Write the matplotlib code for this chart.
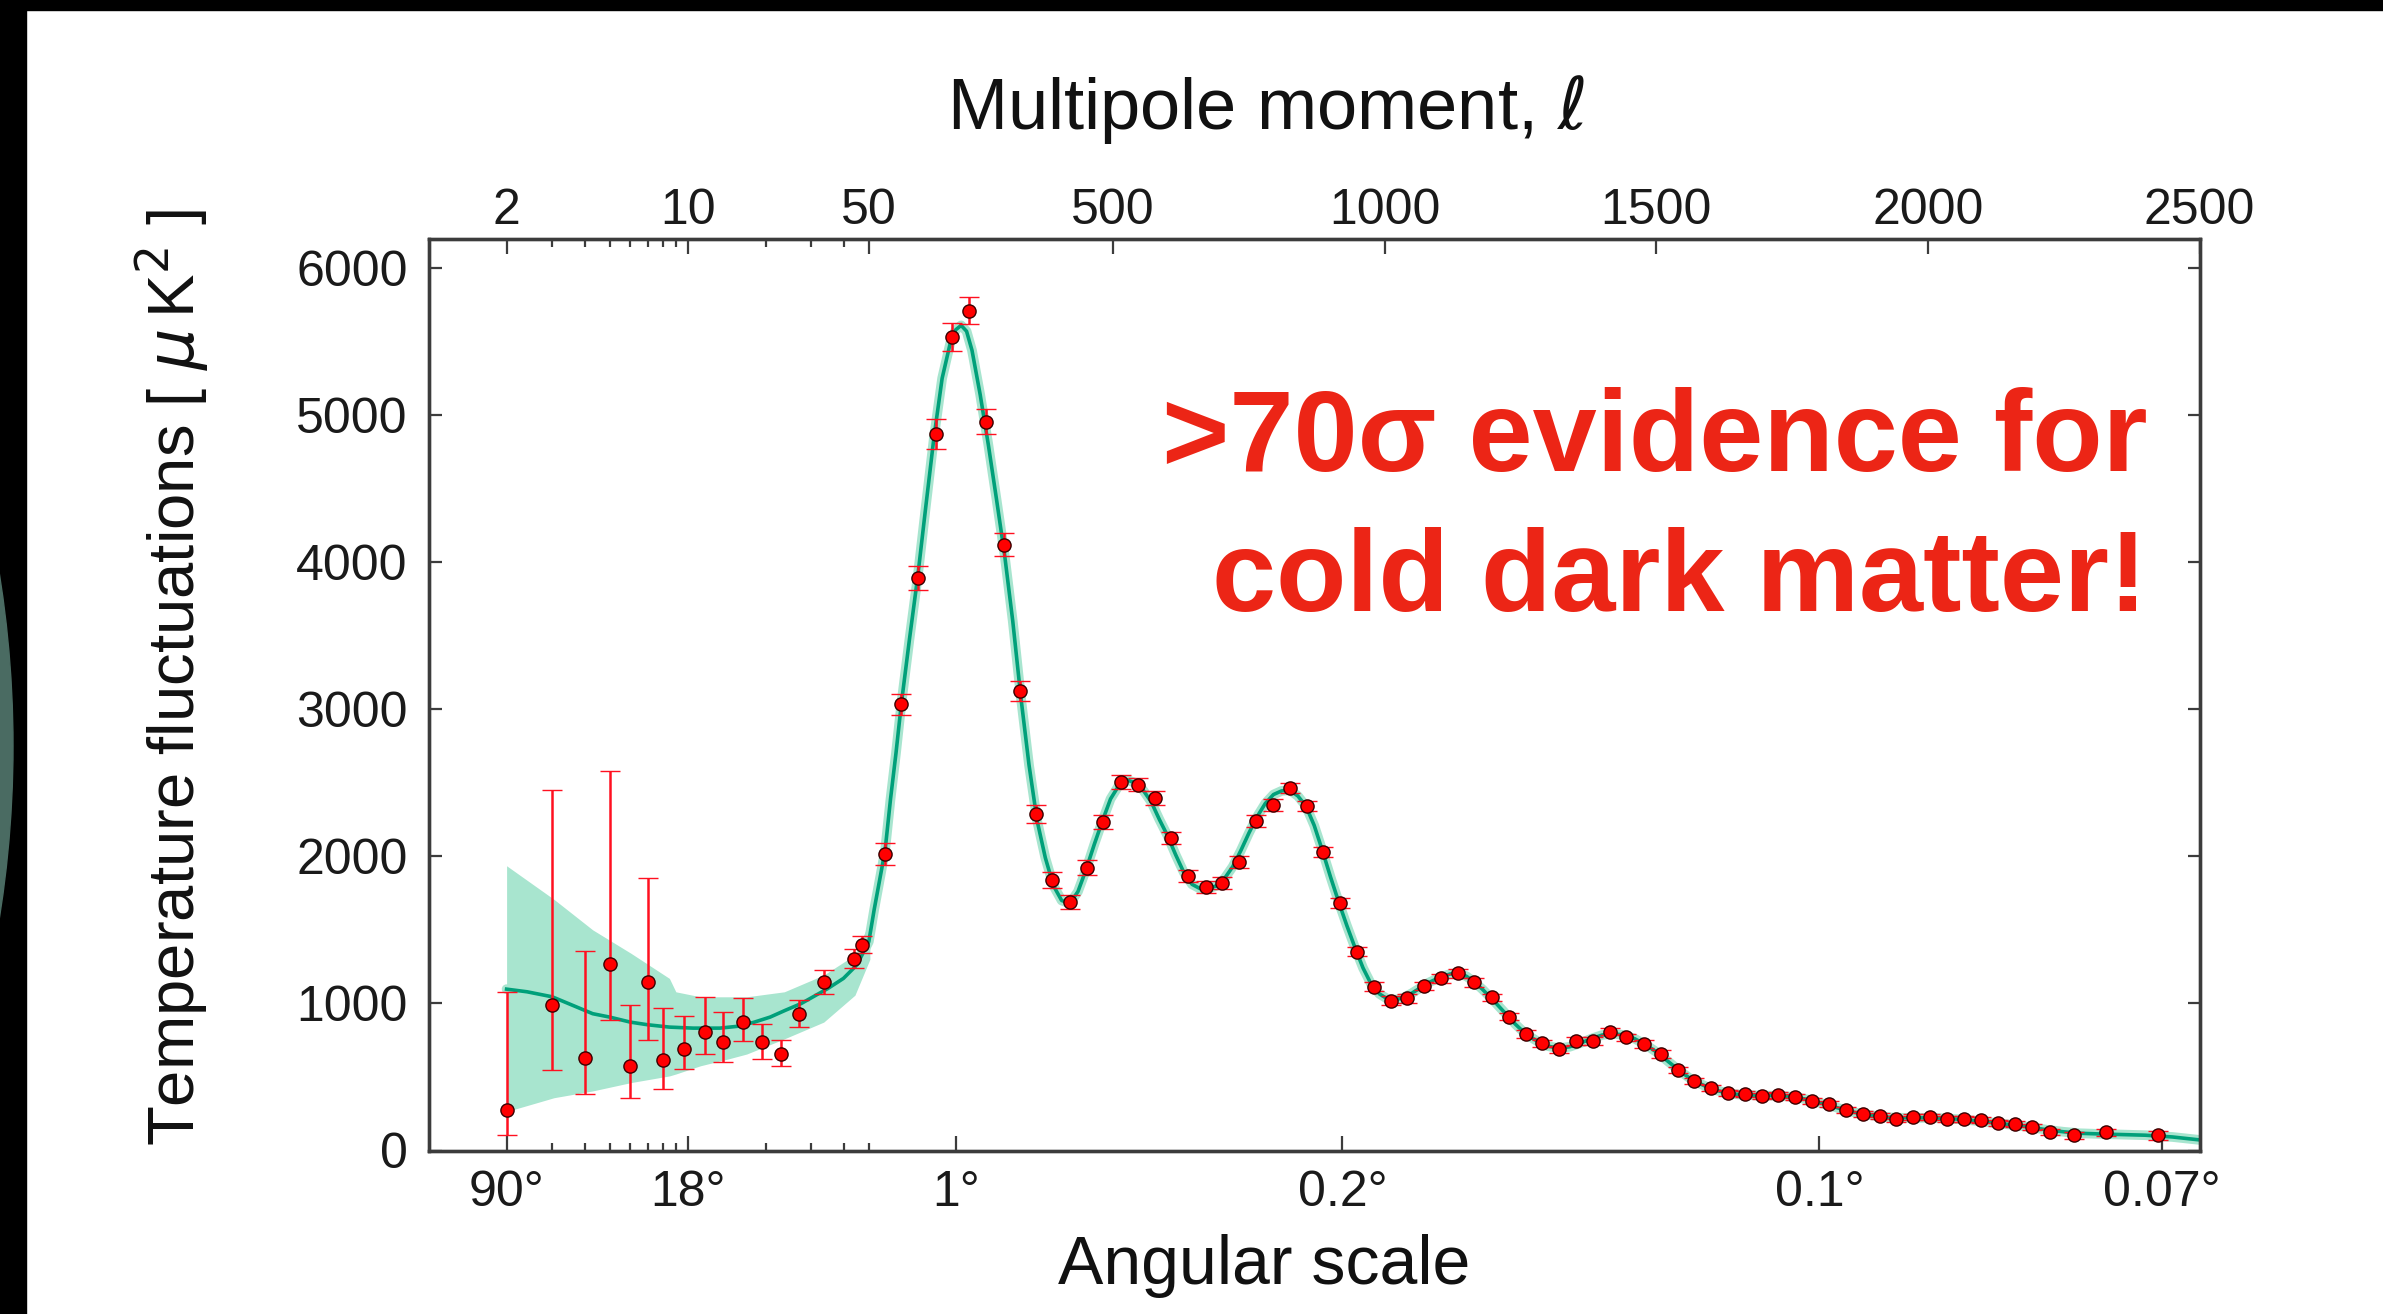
import numpy as np
import matplotlib
matplotlib.use("Agg")
import matplotlib.pyplot as plt
from matplotlib.patches import Rectangle, Ellipse

plt.rcParams['font.family'] = ['Liberation Sans', 'DejaVu Sans']
plt.rcParams['mathtext.fontset'] = 'dejavusans'

# low multipoles: value and lower / upper end of the error bar
ell_low = [2, 3, 4, 5, 6, 7, 8, 9.7, 11.7, 13.7, 16.3, 19.4, 22.9, 26.9, 33.7, 43.9, 46.9]
dl_low = [274, 987, 626, 1266, 576, 1147, 617, 690, 809, 736, 873, 736, 656, 930, 1143, 1303, 1400]
lo_low = [107, 546, 382, 885, 359, 754, 416, 553, 656, 603, 747, 622, 576, 839, 1067, 1240, 1340]
hi_low = [1079, 2450, 1358, 2580, 987, 1851, 969, 914, 1045, 942, 1040, 862, 752, 1022, 1227, 1370, 1460]

# binned high multipoles
ell_high = [79, 110, 141, 173, 204, 235, 266, 298, 328, 357,
            388, 420, 451, 482, 514, 545, 576, 606, 637, 670,
            701, 731, 762, 794, 825, 856, 886, 917, 949, 980,
            1011, 1041, 1072, 1103, 1134, 1165, 1197, 1228, 1259, 1290,
            1321, 1352, 1383, 1414, 1444, 1477, 1508, 1539, 1569, 1601,
            1632, 1663, 1694, 1724, 1756, 1787, 1818, 1849, 1880, 1911,
            1941, 1972, 2004, 2035, 2066, 2097, 2129, 2160, 2192, 2224,
            2268, 2327, 2423]
dl_high = [2019, 3033, 3894, 4872, 5528, 5710, 4956, 4120, 3124, 2286,
           1838, 1690, 1924, 2234, 2505, 2488, 2397, 2125, 1865, 1792,
           1819, 1962, 2240, 2347, 2467, 2340, 2030, 1684, 1351, 1113,
           1018, 1034, 1118, 1170, 1204, 1143, 1041, 909, 791, 728,
           688, 744, 744, 807, 769, 723, 656, 547, 474, 422,
           388, 384, 372, 377, 366, 338, 316, 275, 248, 234,
           214, 225, 230, 212, 216, 207, 189, 180, 162, 128,
           103, 123, 103]
err_high = [75, 70, 80, 100, 95, 90, 85, 75, 70, 60,
            55, 50, 50, 50, 45, 45, 45, 40, 40, 40,
            40, 40, 40, 40, 35, 35, 35, 35, 30, 30,
            30, 30, 30, 30, 30, 30, 25, 25, 25, 25,
            25, 25, 25, 25, 25, 25, 25, 20, 20, 20,
            20, 20, 20, 20, 20, 20, 20, 20, 20, 20,
            20, 20, 20, 20, 20, 20, 20, 20, 20, 20,
            25, 25, 30]

# best fit model
model_l = [2, 2.4, 3, 3.6, 4.3, 5, 6, 7, 8.5, 10.5, 13.3, 15.9, 18.1, 20.8, 23.8, 27.4,
           34.8, 39.9, 45, 50, 60, 70, 80, 90, 100, 110, 125, 140, 155, 170, 185, 200,
           210, 220, 230, 240, 255, 270, 285, 300, 315, 330, 345, 360, 375, 390, 405,
           420, 435, 450, 465, 480, 495, 510, 525, 540, 555, 570, 585, 600, 615, 630,
           645, 660, 675, 690, 705, 720, 735, 750, 765, 780, 795, 810, 825, 840, 855,
           870, 885, 900, 915, 930, 945, 960, 975, 990, 1005, 1020, 1035, 1050, 1065,
           1080, 1100, 1120, 1135, 1150, 1165, 1180, 1200, 1220, 1240, 1260, 1280,
           1300, 1320, 1340, 1360, 1380, 1400, 1420, 1440, 1460, 1480, 1500, 1520,
           1540, 1560, 1580, 1600, 1620, 1640, 1660, 1680, 1700, 1720, 1740, 1760,
           1780, 1800, 1820, 1840, 1860, 1880, 1900, 1920, 1940, 1960, 1980, 2000,
           2020, 2040, 2060, 2080, 2100, 2130, 2160, 2190, 2220, 2250, 2280, 2320,
           2360, 2400, 2450, 2500]
model_dl = [1097, 1079, 1045, 987, 930, 907, 873, 855, 839, 832, 832, 846, 873, 907, 953, 999,
            1102, 1170, 1262, 1420, 1640, 1840, 2040, 2390, 2700, 3040, 3480, 3900, 4380, 4850, 5250, 5490,
            5580, 5610, 5570, 5440, 5140, 4800, 4430, 4050, 3600, 3080, 2620, 2240, 1990, 1800, 1700,
            1680, 1760, 1910, 2080, 2240, 2390, 2480, 2520, 2500, 2450, 2370, 2250, 2140, 2010, 1890,
            1810, 1780, 1780, 1800, 1850, 1930, 2040, 2160, 2270, 2360, 2420, 2445, 2450, 2410, 2340,
            2210, 2040, 1860, 1690, 1530, 1380, 1240, 1130, 1065, 1030, 1025, 1040, 1070, 1105,
            1140, 1175, 1200, 1205, 1185, 1145, 1095, 1020, 940, 860, 790, 745,
            710, 695, 705, 730, 760, 785, 795, 785, 760, 720, 670, 610,
            550, 495, 455, 420, 400, 385, 378, 375, 374, 372, 368, 360,
            345, 325, 305, 283, 263, 248, 237, 228, 223, 222, 222, 222,
            220, 216, 212, 205, 197, 185, 172, 158, 140, 127, 117, 112,
            108, 104, 92, 72]

# cosmic variance band at low multipoles
band_l = [2, 3.05, 4.3, 6.05, 8.5, 9.0, 11.2, 14.3, 16.9, 23.6, 33.5, 44.2, 52]
band_hi = [1936, 1707, 1500, 1340, 1170, 1079, 1045, 1045, 1045, 1079, 1193, 1330, 1560]
band_lo = [265, 359, 405, 462, 507, 520, 576, 622, 656, 759, 873, 1056, 1300]

# axis ticks
top_ticks = [2, 10, 50, 500, 1000, 1500, 2000, 2500]
top_labels = ['2', '10', '50', '500', '1000', '1500', '2000', '2500']
ang_ticks = [2, 10, 210, 922, 1800, 2430]
ang_labels = ['90°', '18°', '1°', '0.2°', '0.1°', '0.07°']
minor_ticks = [3, 4, 5, 6, 7, 8, 9, 20, 30, 40]

K = 477.0  # ell units per decade on the log part (ell < 50)


def fwd(l):
    l = np.asarray(l, dtype=float)
    return np.where(l >= 50, l, 50 + K * np.log10(np.clip(l, 1e-3, None) / 50))


def inv(u):
    u = np.asarray(u, dtype=float)
    return np.where(u >= 50, u, 50 * 10 ** ((np.minimum(u, 50) - 50) / K))


W, H = 2383, 1314
fig = plt.figure(figsize=(W / 100, H / 100), dpi=100)
ax = fig.add_axes([428.6 / W, 1 - 1150.5 / H, 1771 / W, 911.9 / H])
ax.set_xscale('function', functions=(fwd, inv))

green = '#00a07a'
mint = '#a8e5cf'
red = '#ff1020'

ax.fill_between(band_l, band_lo, band_hi, color=mint, lw=0, zorder=1)
ax.plot(model_l, model_dl, color=mint, lw=7, solid_capstyle='round', zorder=1)
ax.plot(model_l, model_dl, color=green, lw=2.6, zorder=2)

dl_low_a = np.array(dl_low)
yerr_low = [dl_low_a - np.array(lo_low), np.array(hi_low) - dl_low_a]
pt_kw = dict(fmt='o', ms=9.5, mfc='#ff0000', mec='#3a0000', mew=1.0, ecolor=red,
             elinewidth=1.8, capsize=7, capthick=1.6, zorder=3)
ax.errorbar(ell_low, dl_low, yerr=yerr_low, **pt_kw)
ax.errorbar(ell_high, dl_high, yerr=err_high, **pt_kw)

ax.set_xlim(1, 2500)
ax.set_ylim(0, 6200)
ax.set_yticks(range(0, 6001, 1000))
ax.set_xticks(ang_ticks)
ax.set_xticklabels(ang_labels)
ax.set_xticks(minor_ticks + [50], minor=True)

spine_c = '#3c3c3c'
tick_kw = dict(direction='in', colors=spine_c, labelcolor='#1a1a1a', width=1.6)
ax.tick_params(axis='x', which='major', length=11, pad=14, labelsize=36, **tick_kw)
ax.tick_params(axis='x', which='minor', length=6, **tick_kw)
ax.tick_params(axis='y', which='major', length=9, pad=15, labelsize=36, right=True, **tick_kw)

ax2 = ax.twiny()
ax2.set_xscale('function', functions=(fwd, inv))
ax2.set_xlim(1, 2500)
ax2.set_xticks(top_ticks)
ax2.set_xticklabels(top_labels)
ax2.set_xticks(minor_ticks, minor=True)
ax2.tick_params(axis='x', which='major', length=11, pad=3, labelsize=36, **tick_kw)
ax2.tick_params(axis='x', which='minor', length=6, **tick_kw)

for a in (ax, ax2):
    for s in a.spines.values():
        s.set_color(spine_c)
        s.set_linewidth(2.4)

# axis titles
fig.text(1266 / W, 1 - 129 / H, r'Multipole moment, $\ell$', ha='center', va='baseline',
         fontsize=52, color='#111111')
fig.text(1264 / W, 1 - 1284 / H, 'Angular scale', ha='center', va='baseline',
         fontsize=49, color='#111111')
fig.text(172 / W, 1 - 678 / H, r'Temperature fluctuations [ $\mu\,$K$^2$ ]', rotation=90,
         ha='center', va='center', fontsize=47, color='#111111')

# slide annotation
fig.text(2147 / W, 1 - 471 / H, '>70σ evidence for', ha='right', va='baseline',
         fontsize=83, fontweight='bold', color='#ec2516')
fig.text(2147 / W, 1 - 611 / H, 'cold dark matter!', ha='right', va='baseline',
         fontsize=83, fontweight='bold', color='#ec2516')

# slide frame: black strips at top and left, edge of a planet image
fig.patches.append(Rectangle((0, 1 - 10 / H), 1, 10 / H, transform=fig.transFigure,
                             color='black', zorder=5))
fig.patches.append(Rectangle((0, 0), 26 / W, 1, transform=fig.transFigure,
                             color='black', zorder=5))
R = 1092
fig.patches.append(Ellipse(((13 - R) / W, 1 - 746 / H), 2 * R / W, 2 * R / H,
                           transform=fig.transFigure, color='#4a6b62', zorder=6))

fig.savefig('out.png', dpi=100)
